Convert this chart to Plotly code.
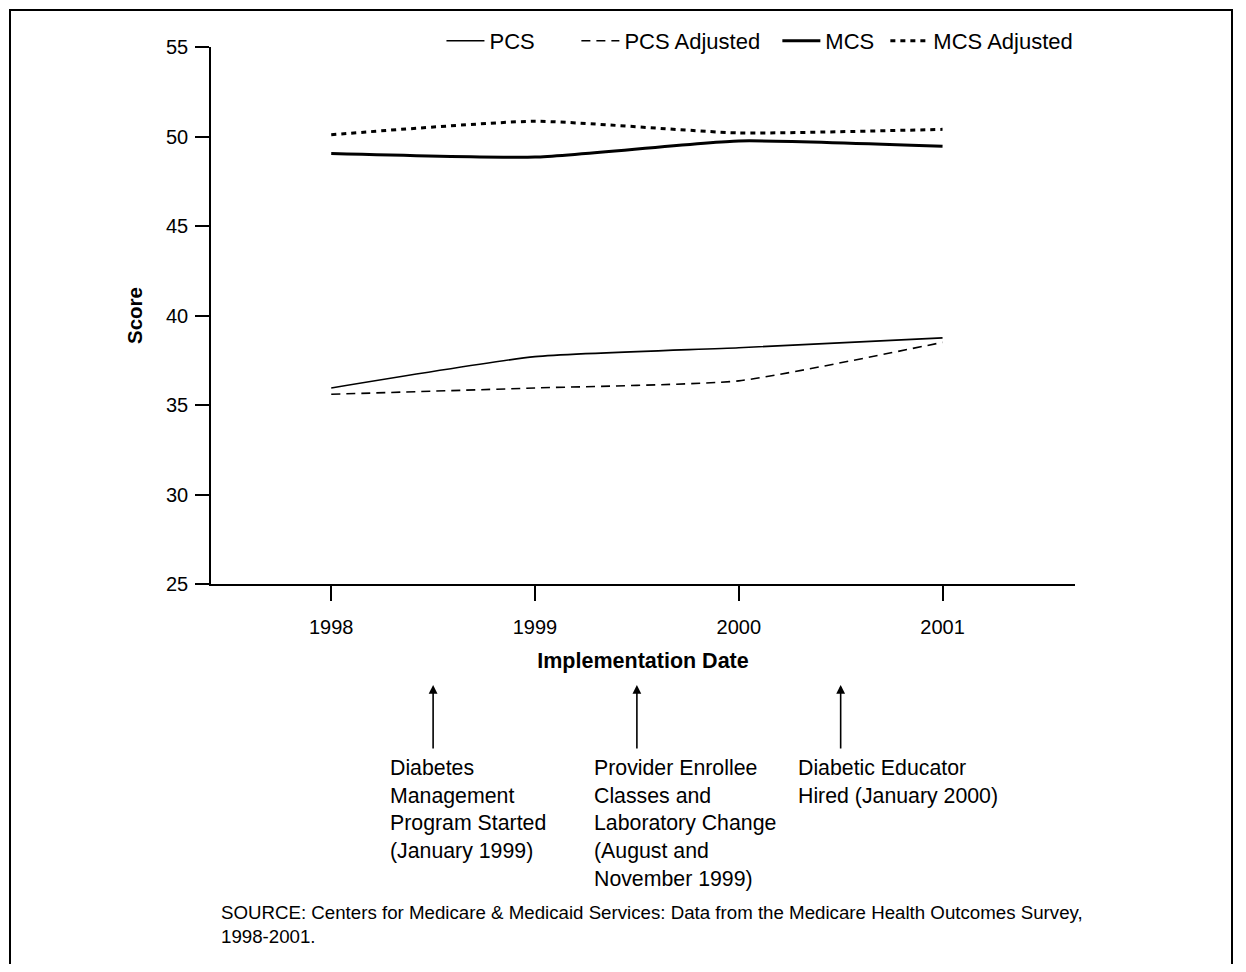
import plotly.graph_objects as go

years = [1998, 1999, 2000, 2001]
pcs = [35.95, 37.7, 38.2, 38.75]
pcs_adj = [35.6, 35.95, 36.35, 38.5]
mcs = [49.05, 48.85, 49.75, 49.45]
mcs_adj = [50.1, 50.85, 50.2, 50.4]

series_names = ["PCS", "PCS Adjusted", "MCS", "MCS Adjusted"]
legend_pad = [6, 2, 1, 0]
y_ticks = [25, 30, 35, 40, 45, 50, 55]

event_x = [1998.5, 1999.5, 2000.5]
event_text = [
    "Diabetes<br>Management<br>Program Started<br>(January 1999)",
    "Provider Enrollee<br>Classes and<br>Laboratory Change<br>(August and<br>November 1999)",
    "Diabetic Educator<br>Hired (January 2000)",
]
source_text = ("SOURCE: Centers for Medicare &amp; Medicaid Services: Data from the Medicare Health Outcomes Survey,"
               "<br>1998-2001.")

FONT = "Liberation Sans, Arial, Helvetica, sans-serif"
OFF = 8  # page body margin
W, H = 1246 - OFF, 972 - 2 * OFF
L, T = 211 - OFF, 47 - OFF
PW, PH = 864, 537
R = W - L - PW
B = H - T - PH


def px_x(px):
    return (px - OFF - L) / PW


def px_y(py):
    return (T + PH - (py - OFF)) / PH


fig = go.Figure()
styles = [
    dict(color="black", width=1.6),
    dict(color="black", width=1.6, dash="9px,6px"),
    dict(color="black", width=3),
    dict(color="black", width=3, dash="5px,5px"),
]
for name, pad, vals, st in zip(series_names, legend_pad, [pcs, pcs_adj, mcs, mcs_adj], styles):
    fig.add_trace(go.Scatter(x=years, y=vals, mode="lines", name=name + "\u00a0" * pad,
                             line=dict(shape="spline", smoothing=0.5, **st)))

annotations = []
for ex, txt in zip(event_x, event_text):
    annotations.append(dict(x=ex, xref="x", y=px_y(685), yref="paper", text="",
                            showarrow=True, ax=0, ay=65, arrowhead=2, arrowsize=1.1,
                            arrowwidth=1.6, arrowcolor="black"))
    annotations.append(dict(x=ex, xref="x", xshift=-45, y=px_y(754), yref="paper",
                            text=txt, showarrow=False, xanchor="left", yanchor="top",
                            align="left", font=dict(size=21.3, color="black", family=FONT)))
annotations.append(dict(x=px_x(219), xref="paper", y=px_y(900), yref="paper", text=source_text,
                        showarrow=False, xanchor="left", yanchor="top", align="left",
                        font=dict(size=18.7, color="black", family=FONT)))

fig.update_layout(
    width=W, height=H,
    margin=dict(l=L, r=R, t=T, b=B),
    paper_bgcolor="white", plot_bgcolor="white",
    font=dict(family=FONT, color="black", size=20),
    showlegend=True,
    legend=dict(orientation="h", x=1.004, xanchor="right", y=px_y(20), yanchor="top",
                font=dict(size=22, family=FONT), itemwidth=38, bgcolor="rgba(0,0,0,0)",
                tracegroupgap=0),
    xaxis=dict(range=[1997.41, 2001.65], tickvals=years, ticktext=[str(y) for y in years],
               showgrid=False, zeroline=False, showline=True, linecolor="black", linewidth=1.5,
               ticks="outside", ticklen=15, tickwidth=1.5, tickcolor="black",
               ticklabelstandoff=9,
               tickfont=dict(size=20, family=FONT),
               title=dict(text="<b>Implementation Date</b>", font=dict(size=21.5, family=FONT), standoff=16)),
    yaxis=dict(range=[25, 55], tickvals=y_ticks, showgrid=False, zeroline=False,
               showline=True, linecolor="black", linewidth=1.5,
               ticks="outside", ticklen=14, tickwidth=1.5, tickcolor="black",
               ticklabelstandoff=3,
               tickfont=dict(size=20, family=FONT),
               title=dict(text="<b>Score</b>", font=dict(size=20.5, family=FONT), standoff=18)),
    annotations=annotations,
    shapes=[dict(type="rect", xref="paper", yref="paper", x0=px_x(10), x1=px_x(1232),
                 y0=px_y(990), y1=px_y(10), line=dict(color="black", width=2), layer="below")],
)

fig.write_html("out.html")
